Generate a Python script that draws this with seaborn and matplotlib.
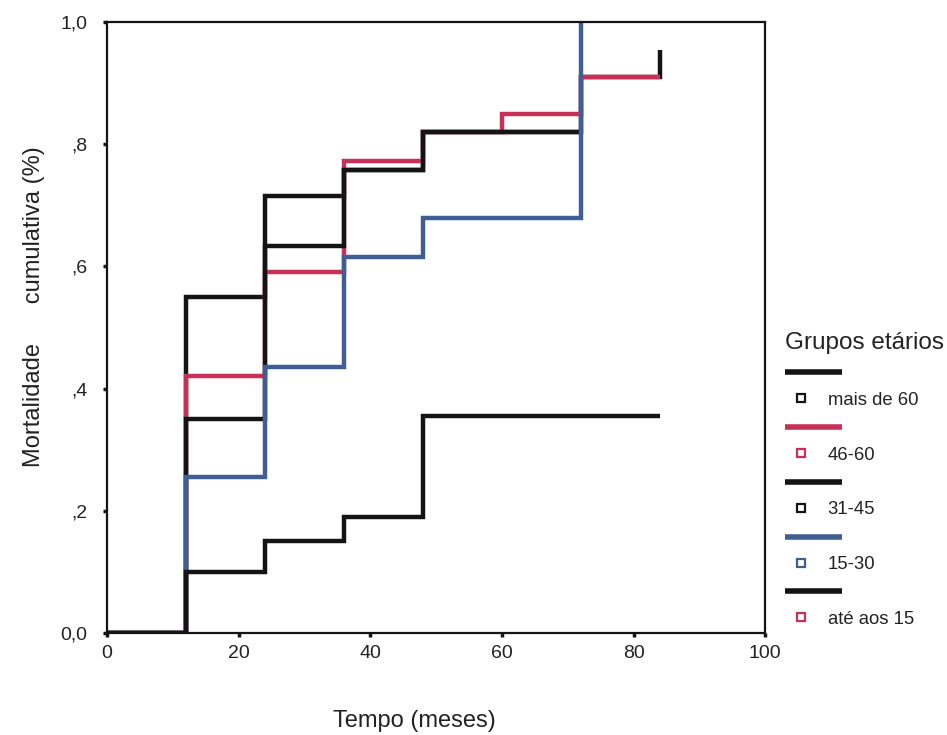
import matplotlib
matplotlib.use("Agg")
import matplotlib.pyplot as plt
from matplotlib.lines import Line2D
from matplotlib.legend_handler import HandlerBase
import seaborn as sns
import pandas as pd

sns.set_theme(style="white")
plt.rcParams['font.family'] = ['Liberation Sans', 'DejaVu Sans']

groups = ["mais de 60", "46-60", "31-45", "15-30", "até aos 15"]
times_mais60 = [0, 12, 24, 36, 48, 60, 72, 84]
vals_mais60 = [0.0, 0.55, 0.715, 0.758, 0.82, 0.82, 0.91, 0.955]
times_4660 = [0, 12, 24, 36, 48, 60, 72, 84]
vals_4660 = [0.0, 0.42, 0.59, 0.772, 0.82, 0.85, 0.91, 0.91]
times_3145 = [0, 12, 24, 36, 48, 60, 72]
vals_3145 = [0.0, 0.35, 0.633, 0.758, 0.82, 0.82, 0.82]
times_1530 = [0, 12, 24, 36, 48, 60, 72, 72]
vals_1530 = [0.0, 0.255, 0.435, 0.615, 0.68, 0.68, 0.68, 1.0]
times_ate15 = [0, 12, 24, 36, 48, 60, 72, 84]
vals_ate15 = [0.0, 0.10, 0.15, 0.19, 0.355, 0.355, 0.355, 0.355]

line_colors = ["#141414", "#c8305a", "#141414", "#3f5f94", "#141414"]
marker_colors = ["#141414", "#c8305a", "#141414", "#3f5f94", "#c8305a"]
xticks = [0, 20, 40, 60, 80, 100]
yticks = [0.0, 0.2, 0.4, 0.6, 0.8, 1.0]
ytick_labels = ["0,0", ",2", ",4", ",6", ",8", "1,0"]

series = [(times_mais60, vals_mais60), (times_4660, vals_4660), (times_3145, vals_3145),
          (times_1530, vals_1530), (times_ate15, vals_ate15)]

fig = plt.figure(figsize=(9.47, 7.35), dpi=100)
ax = fig.add_axes([0.113, 0.139, 0.695, 0.831])

for g, (t, v), c in zip(groups, series, line_colors):
    df = pd.DataFrame({"t": t, "v": v})
    ax.plot(df["t"], df["v"], drawstyle="steps-post", color=c, lw=3.2,
            solid_joinstyle="miter", solid_capstyle="butt")

ax.set_xlim(0, 100)
ax.set_ylim(0, 1.0)
ax.set_xticks(xticks)
ax.set_xticklabels([str(x) for x in xticks], fontsize=14)
ax.set_yticks(yticks)
ax.set_yticklabels(ytick_labels, fontsize=14)
ax.tick_params(axis="both", direction="out", length=3, width=2.5, colors="#141414",
               labelcolor="#222222", bottom=True, left=True)
ax.tick_params(axis="y", pad=11)
ax.tick_params(axis="x", pad=6)
for s in ax.spines.values():
    s.set_color("#141414")
    s.set_linewidth(1.6)
ax.set_xlabel("Tempo (meses)", fontsize=17, color="#222222")
ax.xaxis.set_label_coords(0.467, -0.126)
ax.set_ylabel("Mortalidade      cumulativa (%)", fontsize=17, color="#222222")
ax.yaxis.set_label_coords(-0.094, 0.534)


class LongLineHandler(HandlerBase):
    def create_artists(self, legend, orig, xdescent, ydescent, width, height,
                       fontsize, trans):
        y = height / 2 - ydescent - 1
        ln = Line2D([-xdescent, -xdescent + width * 1.63], [y, y],
                    color=orig.get_color(), lw=orig.get_linewidth(),
                    solid_capstyle="butt", transform=trans)
        return [ln]


class LeftMarkerHandler(HandlerBase):
    def create_artists(self, legend, orig, xdescent, ydescent, width, height,
                       fontsize, trans):
        y = height / 2 - ydescent
        mk = Line2D([-xdescent + width * 0.46], [y], marker="s", linestyle="none",
                    markersize=orig.get_markersize(),
                    markerfacecolor="white", markeredgecolor=orig.get_markeredgecolor(),
                    markeredgewidth=orig.get_markeredgewidth(), transform=trans)
        return [mk]


handles = []
labels = []
hmap = {}
for g, lc, mc in zip(groups, line_colors, marker_colors):
    lh = Line2D([0], [0], color=lc, lw=4)
    mh = Line2D([0], [0], marker="s", linestyle="none", markersize=6,
                markerfacecolor="white", markeredgecolor=mc, markeredgewidth=1.6)
    handles += [lh, mh]
    labels += ["", g]
    hmap[lh] = LongLineHandler()
    hmap[mh] = LeftMarkerHandler()

leg = fig.legend(handles, labels, title="Grupos etários", loc="upper left",
                 bbox_to_anchor=(0.829, 0.548), frameon=False, fontsize=13.3,
                 title_fontsize=17.5, handlelength=1.9, labelspacing=0.56,
                 handletextpad=0.4, borderaxespad=0, borderpad=0,
                 handler_map=hmap)
leg._legend_box.align = "left"
for txt in leg.get_texts():
    txt.set_color("#222222")
leg.get_title().set_color("#222222")

fig.savefig("out.png", dpi=100)
